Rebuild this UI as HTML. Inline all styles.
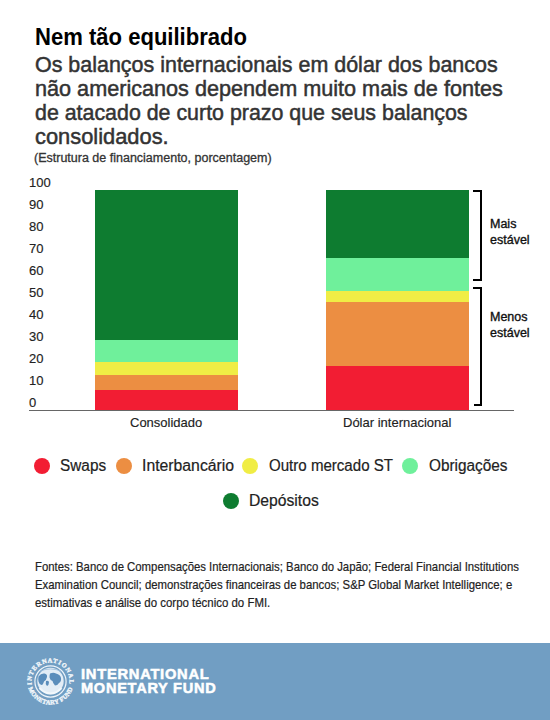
<!DOCTYPE html>
<html><head><meta charset="utf-8">
<style>
*{margin:0;padding:0;box-sizing:border-box}
html,body{width:550px;height:720px;overflow:hidden;background:#fff}
body{position:relative;font-family:"Liberation Sans",sans-serif;color:#222}
.t{position:absolute;white-space:nowrap}
.bar{position:absolute}
.yl{position:absolute;left:29px;font-size:13px;line-height:22px;height:22px;color:#222;-webkit-text-stroke:0.15px #222}
.dot{position:absolute;width:16px;height:16px;border-radius:50%}
.lg{position:absolute;font-size:16px;line-height:20px;color:#222;white-space:nowrap;-webkit-text-stroke:0.2px #222;transform-origin:0 0;transform:scaleX(0.96)}
.br{position:absolute;background:#000}
.src{left:34.5px;font-size:13px;line-height:18px;color:#222;-webkit-text-stroke:0.2px #222;transform-origin:0 0}
.sub{left:35px;font-size:22px;line-height:24px;font-weight:400;color:#333;-webkit-text-stroke:0.5px #333;transform-origin:0 0}
</style></head><body>

<div class="t" id="title" style="left:35px;top:25.7px;font-size:23px;line-height:23px;font-weight:700;color:#000;transform:scaleX(0.959);transform-origin:0 0">Nem tão equilibrado</div>
<div class="t sub" id="sub0" style="top:52.7px;transform:scaleX(0.9750)">Os balanços internacionais em dólar dos bancos</div>
<div class="t sub" id="sub1" style="top:76.7px;transform:scaleX(0.9834)">não americanos dependem muito mais de fontes</div>
<div class="t sub" id="sub2" style="top:100.7px;transform:scaleX(0.9716)">de atacado de curto prazo que seus balanços</div>
<div class="t sub" id="sub3" style="top:124.7px;transform:scaleX(0.9935)">consolidados.</div>

<div class="t" id="unit" style="left:34px;top:152.1px;font-size:12.5px;line-height:12.5px;color:#333;-webkit-text-stroke:0.3px #333">(Estrutura de financiamento, porcentagem)</div>

<!-- y labels -->
<div class="yl" style="top:172.2px">100</div>
<div class="yl" style="top:194.2px">90</div>
<div class="yl" style="top:216.2px">80</div>
<div class="yl" style="top:238.2px">70</div>
<div class="yl" style="top:260.2px">60</div>
<div class="yl" style="top:282.2px">50</div>
<div class="yl" style="top:304.2px">40</div>
<div class="yl" style="top:326.2px">30</div>
<div class="yl" style="top:348.2px">20</div>
<div class="yl" style="top:370.2px">10</div>
<div class="yl" style="top:392.2px">0</div>

<!-- left bar -->
<div class="bar" style="left:95px;width:143px;top:190px;height:150px;background:#0E7C30"></div>
<div class="bar" style="left:95px;width:143px;top:340px;height:21.5px;background:#6FF09B"></div>
<div class="bar" style="left:95px;width:143px;top:361.5px;height:13.5px;background:#F0ED45"></div>
<div class="bar" style="left:95px;width:143px;top:375px;height:15px;background:#EC8E42"></div>
<div class="bar" style="left:95px;width:143px;top:390px;height:20px;background:#F21D33"></div>

<!-- right bar -->
<div class="bar" style="left:326px;width:143px;top:190px;height:68px;background:#0E7C30"></div>
<div class="bar" style="left:326px;width:143px;top:258px;height:32.5px;background:#6FF09B"></div>
<div class="bar" style="left:326px;width:143px;top:290.5px;height:11.5px;background:#F0ED45"></div>
<div class="bar" style="left:326px;width:143px;top:302px;height:64px;background:#EC8E42"></div>
<div class="bar" style="left:326px;width:143px;top:366px;height:44px;background:#F21D33"></div>

<!-- axis -->
<div class="bar" style="left:29px;width:485px;top:410px;height:1px;background:#666"></div>

<!-- x labels -->
<div class="t" id="xl1" style="left:130px;top:413.3px;font-size:13px;line-height:20px;color:#222;-webkit-text-stroke:0.15px #222">Consolidado</div>
<div class="t" id="xl2" style="left:343px;top:413.3px;font-size:13px;line-height:20px;color:#222;-webkit-text-stroke:0.15px #222">Dólar internacional</div>

<!-- brackets -->
<div class="br" style="left:473px;top:190px;width:9px;height:2px"></div>
<div class="br" style="left:480px;top:190px;width:2px;height:91px"></div>
<div class="br" style="left:473px;top:279px;width:9px;height:2px"></div>
<div class="br" style="left:473px;top:287px;width:9px;height:2px"></div>
<div class="br" style="left:480px;top:287px;width:2px;height:118.5px"></div>
<div class="br" style="left:474px;top:403.5px;width:8px;height:2px"></div>

<div class="t" id="mais" style="left:490px;top:215.9px;font-size:12.5px;line-height:16.5px;color:#111;-webkit-text-stroke:0.35px #111">Mais<br>estável</div>
<div class="t" id="menos" style="left:490px;top:308.9px;font-size:12.5px;line-height:16.5px;color:#111;-webkit-text-stroke:0.35px #111">Menos<br>estável</div>

<!-- legend -->
<div class="dot" style="left:34px;top:458px;background:#F21D33"></div>
<div class="lg" style="left:60px;top:455.5px">Swaps</div>
<div class="dot" style="left:116px;top:458px;background:#EC8E42"></div>
<div class="lg" style="left:142px;top:455.5px;transform:scaleX(0.986)">Interbancário</div>
<div class="dot" style="left:242px;top:458px;background:#F0ED45"></div>
<div class="lg" style="left:268.5px;top:455.5px;transform:scaleX(0.942)">Outro mercado ST</div>
<div class="dot" style="left:402px;top:458px;background:#6FF09B"></div>
<div class="lg" style="left:429px;top:455.5px">Obrigações</div>
<div class="dot" style="left:223px;top:493px;background:#0E7C30"></div>
<div class="lg" style="left:249px;top:491.1px;transform:scaleX(0.98)">Depósitos</div>

<!-- sources -->
<div class="t src" id="src0" style="top:558.2px;transform:scaleX(0.873)">Fontes: Banco de Compensações Internacionais; Banco do Japão; Federal Financial Institutions</div>
<div class="t src" id="src1" style="top:576.3px;transform:scaleX(0.874)">Examination Council; demonstrações financeiras de bancos; S&amp;P Global Market Intelligence; e</div>
<div class="t src" id="src2" style="top:594.2px;transform:scaleX(0.880)">estimativas e análise do corpo técnico do FMI.</div>


<!-- footer -->
<div class="bar" style="left:0;top:643px;width:550px;height:77px;background:#719EC3"></div>
<svg style="position:absolute;left:26px;top:657px;overflow:visible" width="50" height="50" viewBox="0 0 50 50">
  <defs>
    <path id="rtop" d="M6.15 29.42 A19 19 0 1 1 42.85 29.42"/>
    <path id="rbot" d="M1.5 24.5 A23 23 0 0 0 47.5 24.5"/>
  </defs>
  <g font-family="Liberation Serif" font-weight="700" font-size="6.3" fill="#f2f7fb" stroke="#f2f7fb" stroke-width="0.35" text-anchor="middle">
  <text letter-spacing="0.9"><textPath href="#rtop" startOffset="50%">INTERNATIONAL</textPath></text>
  <text letter-spacing="0.25"><textPath href="#rbot" startOffset="50%">MONETARY FUND</textPath></text>
  </g>
  <circle cx="24.5" cy="24.5" r="15.6" fill="none" stroke="#eef4fa" stroke-width="1.2"/>
  <circle cx="24.5" cy="24" r="13.2" fill="#e3edf6"/>
  <path d="M13.2 14.5 q11.3 -5 22.6 0" fill="none" stroke="#9fbfdc" stroke-width="0.8"/>
  <path d="M12.5 19.5 q2.5 -3.5 6 -3 q3 0.5 2.5 3.5 q-0.5 3 -3 4.5 q-1 3.5 -2.5 3.5 q-2.5 -1 -3 -3.5 q-0.5 -3 0 -5z" fill="#5a8dbb"/>
  <path d="M24 16.5 q3.5 -1.5 6 0 q4.5 1 5 4.5 q0.5 3.5 -2 5 q-1.5 2.5 -4 2.5 q-2 -2 -2.5 -4.5 q-2.5 -1 -3 -3.5 q0 -2.5 0.5 -4z" fill="#5a8dbb"/>
  <path d="M20 24 q2 -1 3 1 q0 3 -2 4 q-2 -2 -1 -5z" fill="#5a8dbb"/>
  <path d="M13.5 31 q5 5.5 11 5.5 q6 0 11 -5.5" fill="none" stroke="#f2f7fb" stroke-width="2"/>
</svg>
<div class="t" id="imf1" style="left:81.3px;top:666px;font-size:14px;line-height:16px;font-weight:700;color:#fff;-webkit-text-stroke:0.5px #fff;letter-spacing:0.7px;transform:scaleX(1.05);transform-origin:0 0">INTERNATIONAL</div>
<div class="t" id="imf2" style="left:81.3px;top:679.7px;font-size:14px;line-height:16px;font-weight:700;color:#fff;-webkit-text-stroke:0.5px #fff;letter-spacing:0.7px;transform:scaleX(1.04);transform-origin:0 0">MONETARY FUND</div>

</body></html>
